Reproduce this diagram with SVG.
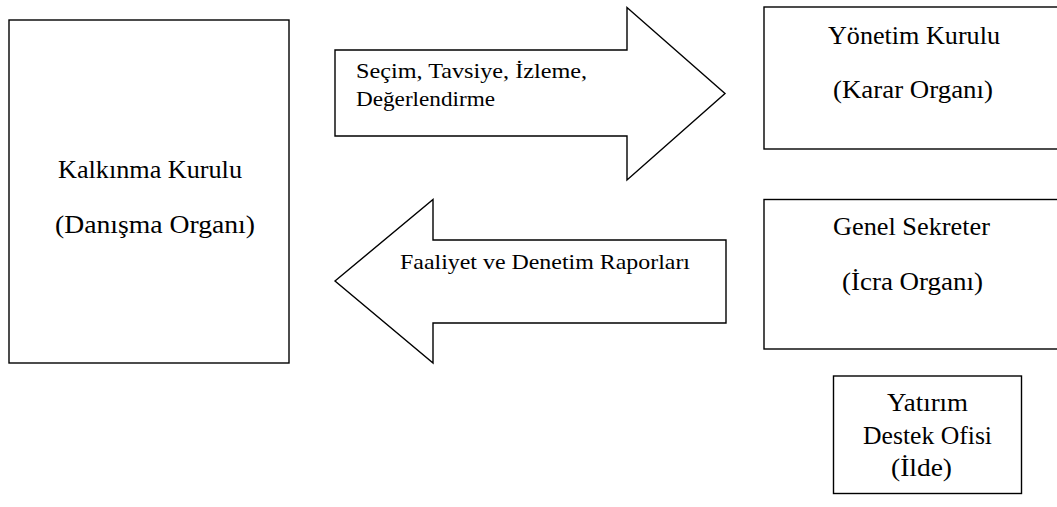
<svg xmlns="http://www.w3.org/2000/svg" width="1057" height="507" viewBox="0 0 1057 507">
<style>
.box{fill:#fff;stroke:#000;stroke-width:1.4}
.arr{fill:#fff;stroke:#000;stroke-width:1.4;stroke-linejoin:miter}
.big{font-family:"Liberation Serif","Times New Roman",serif;font-size:25px;fill:#000}
.sm{font-family:"Liberation Serif","Times New Roman",serif;font-size:21.5px;fill:#000}
</style>
<rect width="1057" height="507" fill="#fff"/>
<g id="connectors">
<path class="arr" d="M335,50 L627,50 L627,7.5 L725,93.5 L627,180 L627,136 L335,136 Z"/>
<text class="sm" x="356" y="78" textLength="231" lengthAdjust="spacingAndGlyphs">Seçim, Tavsiye, İzleme,</text>
<text class="sm" x="356" y="106" textLength="139" lengthAdjust="spacingAndGlyphs">Değerlendirme</text>
<path class="arr" d="M335,281 L433,199.5 L433,240 L726,240 L726,323 L433,323 L433,363 Z"/>
<text class="sm" x="400" y="268.5" textLength="290" lengthAdjust="spacingAndGlyphs">Faaliyet ve Denetim Raporları</text>
</g>
<g id="kalkinma-kurulu">
<rect class="box" x="9" y="20" width="280" height="343"/>
<text class="big" x="58" y="178" textLength="184" lengthAdjust="spacingAndGlyphs">Kalkınma Kurulu</text>
<text class="big" x="55" y="232.5" textLength="200" lengthAdjust="spacingAndGlyphs">(Danışma Organı)</text>
</g>
<g id="yonetim-kurulu">
<rect class="box" x="764" y="7" width="310" height="142"/>
<text class="big" x="828" y="44" textLength="172" lengthAdjust="spacingAndGlyphs">Yönetim Kurulu</text>
<text class="big" x="833" y="98" textLength="160" lengthAdjust="spacingAndGlyphs">(Karar Organı)</text>
</g>
<g id="genel-sekreter">
<rect class="box" x="764" y="199.5" width="310" height="149.5"/>
<text class="big" x="833" y="235" textLength="157" lengthAdjust="spacingAndGlyphs">Genel Sekreter</text>
<text class="big" x="842" y="290" textLength="141" lengthAdjust="spacingAndGlyphs">(İcra Organı)</text>
</g>
<g id="yatirim-destek-ofisi">
<rect class="box" x="833.5" y="376" width="188" height="117.5"/>
<text class="big" x="887" y="411" textLength="81" lengthAdjust="spacingAndGlyphs">Yatırım</text>
<text class="big" x="863" y="444" textLength="129" lengthAdjust="spacingAndGlyphs">Destek Ofisi</text>
<text class="big" x="891" y="476" textLength="61" lengthAdjust="spacingAndGlyphs">(İlde)</text>
</g>
</svg>
